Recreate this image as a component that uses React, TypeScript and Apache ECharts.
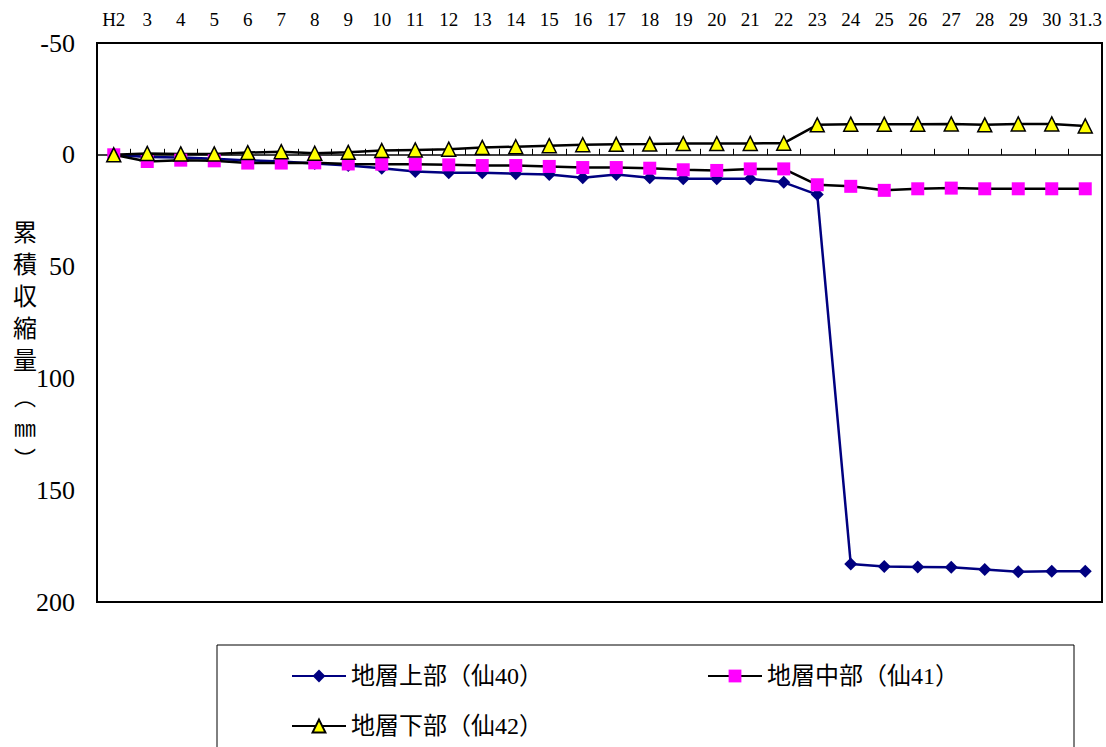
import React, { useEffect, useRef } from "react";
import * as echarts from "echarts";

const categories = ["H2", "3", "4", "5", "6", "7", "8", "9", "10", "11", "12", "13", "14", "15", "16", "17", "18", "19", "20", "21", "22", "23", "24", "25", "26", "27", "28", "29", "30", "31.3"];
const upperValues = [0, 1.0, 1.2, 1.8, 2.5, 3.0, 3.9, 4.8, 6.0, 7.5, 8.0, 8.0, 8.5, 8.8, 10.3, 8.8, 10.3, 10.7, 10.7, 10.7, 12.3, 17.8, 183.0, 184.1, 184.3, 184.5, 185.5, 186.5, 186.2, 186.3];
const middleValues = [0, 3.0, 2.4, 2.7, 3.7, 3.7, 3.6, 4.1, 4.2, 4.2, 4.5, 4.8, 4.8, 5.2, 5.7, 5.7, 6.0, 6.7, 7.0, 6.3, 6.3, 13.4, 14.1, 15.9, 15.2, 14.9, 15.2, 15.2, 15.2, 15.2];
const lowerValues = [0, -0.6, -0.4, -0.4, -1.0, -1.4, -0.7, -1.1, -1.9, -2.2, -2.5, -3.3, -3.6, -4.1, -4.5, -4.7, -4.8, -5.0, -5.0, -5.1, -5.2, -13.4, -13.7, -13.7, -13.7, -13.8, -13.4, -13.8, -13.8, -12.9];
const seriesNames = ["地層上部（仙40）", "地層中部（仙41）", "地層下部（仙42）"];
const yAxisTitleMain = ["累", "積", "収", "縮", "量"];
const yAxisTitleUnit = ["︵", "㎜", "︶"];

const FONT = "'Liberation Serif', 'DejaVu Serif', 'Noto Sans CJK JP', serif";

export default function App() {
  const ref = useRef<HTMLDivElement>(null);
  useEffect(() => {
    if (!ref.current) return;
    const chart = echarts.init(ref.current, null, { renderer: "svg" });
    const legendText = { fontFamily: FONT, fontSize: 24, color: "#000" };
    chart.setOption({
      animation: false,
      backgroundColor: "#fff",
      textStyle: { fontFamily: FONT },
      grid: {
        left: 97,
        top: 43,
        right: 4,
        bottom: 145,
        show: true,
        borderColor: "#000",
        borderWidth: 2,
        backgroundColor: "transparent",
      },
      xAxis: [
        {
          type: "category",
          data: categories,
          position: "top",
          boundaryGap: true,
          axisLine: { show: false, onZero: false },
          axisTick: { show: false },
          axisLabel: { fontFamily: FONT, fontSize: 19, color: "#000", margin: 14, interval: 0 },
          splitLine: { show: false },
        },
        {
          type: "category",
          data: categories,
          position: "bottom",
          boundaryGap: true,
          axisLine: { show: true, onZero: true, lineStyle: { color: "#000", width: 1.5 } },
          axisTick: { show: true, inside: true, length: 6, interval: 0, lineStyle: { color: "#000", width: 1 } },
          axisLabel: { show: false },
          splitLine: { show: false },
        },
      ],
      yAxis: {
        type: "value",
        inverse: true,
        min: -50,
        max: 200,
        interval: 50,
        axisLine: { show: false },
        axisTick: { show: false },
        splitLine: { show: false },
        axisLabel: { fontFamily: FONT, fontSize: 26, color: "#000", margin: 22 },
      },
      legend: [
        {
          data: [seriesNames[0], seriesNames[1]],
          left: 286,
          top: 659,
          orient: "horizontal",
          itemWidth: 54,
          itemHeight: 16,
          itemGap: 164,
          textStyle: legendText,
          selectedMode: false,
        },
        {
          data: [seriesNames[2]],
          left: 286,
          top: 709,
          orient: "horizontal",
          itemWidth: 54,
          itemHeight: 16,
          textStyle: legendText,
          selectedMode: false,
        },
      ],
      graphic: [
        {
          type: "rect",
          shape: { x: 217, y: 645, width: 857, height: 120 },
          style: { fill: "none", stroke: "#000", lineWidth: 1 },
          silent: true,
        },
        {
          type: "text",
          left: 13,
          top: 214,
          style: {
            text: yAxisTitleMain.join("\n"),
            font: "24px 'Noto Sans CJK JP', sans-serif",
            lineHeight: 32,
            fill: "#000",
          },
        },
        {
          type: "text",
          left: 14,
          top: 379,
          style: {
            text: yAxisTitleUnit.join("\n"),
            font: "22px 'Noto Sans CJK JP', sans-serif",
            lineHeight: 31,
            fill: "#000",
          },
        },
      ],
      series: [
        {
          name: seriesNames[0],
          type: "line",
          data: upperValues,
          symbol: "diamond",
          symbolSize: 13,
          lineStyle: { color: "#000080", width: 2.5 },
          itemStyle: { color: "#000080" },
        },
        {
          name: seriesNames[1],
          type: "line",
          data: middleValues,
          symbol: "rect",
          symbolSize: 13,
          lineStyle: { color: "#000", width: 2.5 },
          itemStyle: { color: "#FF00FF" },
        },
        {
          name: seriesNames[2],
          type: "line",
          data: lowerValues,
          symbol: "triangle",
          symbolSize: 14,
          lineStyle: { color: "#000", width: 2.5 },
          itemStyle: { color: "#FFFF00", borderColor: "#000", borderWidth: 1.5 },
        },
      ],
    });
    return () => chart.dispose();
  }, []);
  return (
    <div
      ref={ref}
      style={{ position: "fixed", left: 0, top: 0, width: 1106, height: 747, background: "#fff" }}
    />
  );
}
